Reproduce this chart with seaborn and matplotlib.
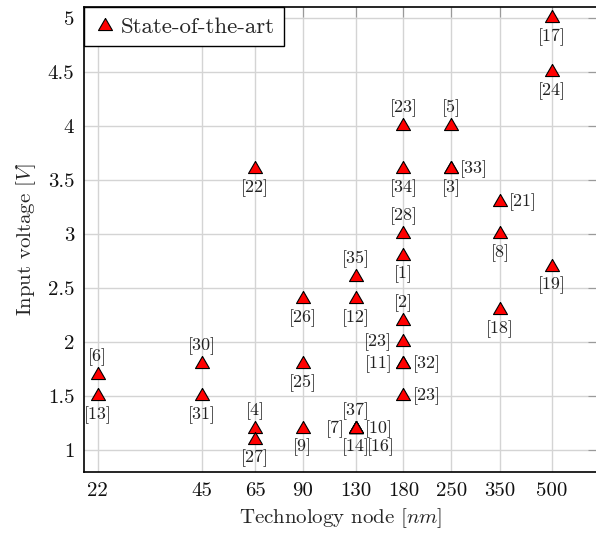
import numpy as np
import matplotlib
matplotlib.use("Agg")
import matplotlib.pyplot as plt
import seaborn as sns
import pandas as pd

# technology node [nm], input voltage [V], reference tag, where the tag sits
tech_node = [22, 22, 45, 45, 65, 65, 65, 90, 90, 90,
             130, 130, 130, 130, 130, 130, 130,
             180, 180, 180, 180, 180, 180, 180, 180, 180,
             250, 250, 250, 350, 350, 350, 500, 500, 500]
voltage = [1.7, 1.5, 1.8, 1.5, 3.6, 1.2, 1.1, 2.4, 1.8, 1.2,
           2.6, 2.4, 1.2, 1.2, 1.2, 1.2, 1.2,
           4.0, 3.6, 3.0, 2.8, 2.2, 2.0, 1.8, 1.8, 1.5,
           4.0, 3.6, 3.6, 3.3, 3.0, 2.3, 5.0, 4.5, 2.7]
ref_label = ["[6]", "[13]", "[30]", "[31]", "[22]", "[4]", "[27]", "[26]", "[25]", "[9]",
             "[35]", "[12]", "[37]", "[7]", "[10]", "[14]", "[16]",
             "[23]", "[34]", "[28]", "[1]", "[2]", "[23]", "[11]", "[32]", "[23]",
             "[5]", "[33]", "[3]", "[21]", "[8]", "[18]", "[17]", "[24]", "[19]"]
label_pos = ["above", "below", "above", "below", "below", "above", "below", "below", "below", "below",
             "above", "below", "above", "left", "right", "below", "below right",
             "above", "below", "above", "below", "above", "left", "left", "right", "right",
             "above", "right", "below", "right", "below", "below", "below", "below", "below"]

x_ticks = [22, 45, 65, 90, 130, 180, 250, 350, 500]
y_ticks = [1, 1.5, 2, 2.5, 3, 3.5, 4, 4.5, 5]
y_tick_labels = ["1", "1.5", "2", "2.5", "3", "3.5", "4", "4.5", "5"]

df = pd.DataFrame({"node": tech_node, "voltage": voltage})

sns.set_style("white")
plt.rcParams["font.family"] = ["cmr10", "DejaVu Serif"]
plt.rcParams["mathtext.fontset"] = "cm"
plt.rcParams["axes.formatter.use_mathtext"] = True

fig = plt.figure(figsize=(5.96, 5.35), dpi=100)
# right edge sits just past the canvas, as in the cropped reference
ax = fig.add_axes([84 / 596, 1 - 472 / 535, (598 - 84) / 596, (472 - 7.3) / 535])

# equilateral triangle, centred on its centroid (like pgfplots triangle*)
tri = [(0, 0.577), (-0.5, -0.289), (0.5, -0.289), (0, 0.577)]

sns.scatterplot(data=df, x="node", y="voltage", marker=tri, s=135,
                color="red", edgecolor="black", linewidth=0.8,
                label="State-of-the-art", zorder=3, ax=ax)

offsets = {
    "above": ((0, 13), "center", "center"),
    "below": ((0, -13.5), "center", "center"),
    "right": ((6.5, 0), "left", "center"),
    "left": ((-8, 0), "right", "center"),
    "below right": ((8, -13), "left", "center"),
}
for xv, yv, txt, pos in zip(tech_node, voltage, ref_label, label_pos):
    off, ha, va = offsets[pos]
    ax.annotate(txt, (xv, yv), xytext=off, textcoords="offset points",
                ha=ha, va=va, fontsize=13, color="#222222", zorder=4)

ax.set_xscale("log")
ax.set_xlim(20, 686)
ax.set_ylim(0.8, 5.1)
ax.set_xticks(x_ticks)
ax.set_xticklabels([str(t) for t in x_ticks])
ax.minorticks_off()
ax.set_yticks(y_ticks)
ax.set_yticklabels(y_tick_labels)

ax.grid(True, color="#d4d4d4", linewidth=1.0)
ax.set_axisbelow(True)
ax.tick_params(axis="both", which="major", direction="in", length=7, width=0.8,
               color="#9a9a9a", labelsize=15, pad=7,
               top=True, right=True, labelcolor="#111111")
for sp in ax.spines.values():
    sp.set_color("black")
    sp.set_linewidth(1.2)

ax.set_xlabel("Technology node [$nm$]", fontsize=15, labelpad=5)
ax.set_ylabel("Input voltage [$V$]", fontsize=15, labelpad=7)

leg = ax.legend(loc="upper left", borderaxespad=0, fancybox=False, framealpha=1,
                edgecolor="black", fontsize=16.5, handletextpad=0.2, handlelength=1.0,
                borderpad=0.4)
leg.get_frame().set_linewidth(1.0)

fig.savefig("out.png", dpi=100)
